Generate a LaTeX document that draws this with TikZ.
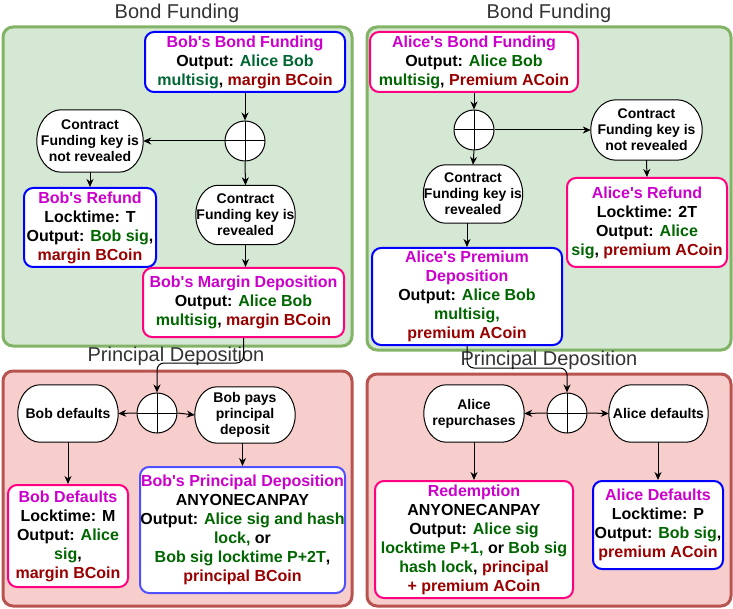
\documentclass[tikz,border=0pt]{standalone}
\usepackage{fontspec}
\setmainfont{Liberation Sans}
% family without TeX ligatures, so apostrophes stay straight
\newfontfamily\lsans{Liberation Sans}
\usetikzlibrary{arrows.meta,calc}

\definecolor{grpGfill}{HTML}{D5E8D4}
\definecolor{grpGline}{HTML}{82B366}
\definecolor{grpRfill}{HTML}{F8CECC}
\definecolor{grpRline}{HTML}{B85450}
\definecolor{tMagC}{HTML}{CC00CC}
\definecolor{tGrnC}{HTML}{006600}
\definecolor{tTealC}{HTML}{006633}
\definecolor{tRedC}{HTML}{990000}
\definecolor{bBlue}{HTML}{0000FF}
\definecolor{bPink}{HTML}{FF0080}
\definecolor{bLight}{HTML}{5050FF}
\definecolor{ttlC}{HTML}{333333}

\newcommand\tMag[1]{\textcolor{tMagC}{#1}}
\newcommand\tGrn[1]{\textcolor{tGrnC}{#1}}
\newcommand\tTeal[1]{\textcolor{tTealC}{#1}}
\newcommand\tRed[1]{\textcolor{tRedC}{#1}}

\pgfdeclarelayer{groups}
\pgfdeclarelayer{shapes}
\pgfsetlayers{groups,shapes,main}

% outline of a decision pill: elliptic corners, #2 = horizontal corner radius
\newcommand\pilloutline[2]{%
  \begin{pgfonlayer}{shapes}
  \draw[line width=1pt, fill=white]
    (#1.west) .. controls ($(#1.west)!0.552!(#1.north west)$) and ($(#1.north west)+(0.448*#2,0)$) .. ($(#1.north west)+(#2,0)$)
    -- ($(#1.north east)-(#2,0)$)
    .. controls ($(#1.north east)-(0.448*#2,0)$) and ($(#1.east)!0.552!(#1.north east)$) .. (#1.east)
    .. controls ($(#1.east)!0.552!(#1.south east)$) and ($(#1.south east)-(0.448*#2,0)$) .. ($(#1.south east)-(#2,0)$)
    -- ($(#1.south west)+(#2,0)$)
    .. controls ($(#1.south west)+(0.448*#2,0)$) and ($(#1.west)!0.552!(#1.south west)$) .. (#1.west) -- cycle;
  \end{pgfonlayer}}

\tikzset{
  grp/.style={line width=3pt, rounded corners=10pt},
  grpG/.style={grp, draw=grpGline, fill=grpGfill},
  grpR/.style={grp, draw=grpRline, fill=grpRfill},
  gtitle/.style={text=ttlC, inner sep=0pt, font=\lsans\fontsize{20}{24}\selectfont},
  card/.style={draw, line width=2pt, rounded corners=9pt, fill=white, align=center,
    inner sep=0pt, font=\lsans\bfseries\fontsize{16}{19}\selectfont},
  pilltext/.style={align=center, inner sep=0pt, font=\lsans\bfseries\fontsize{14}{16}\selectfont},
  xor/.style={circle, draw, fill=white, line width=1pt, minimum size=40pt, inner sep=0pt,
    path picture={\draw[line width=1pt] (path picture bounding box.north) -- (path picture bounding box.south)
      (path picture bounding box.west) -- (path picture bounding box.east);}},
  arr/.style={-{Stealth[length=8pt,width=7pt,inset=2.5pt]}, line width=1pt},
}

\begin{document}
\begin{tikzpicture}[x=1pt,y=-1pt]
\useasboundingbox (0,0) rectangle (733,609);

% ---- group panels
\begin{pgfonlayer}{groups}
  \draw[grpG] (3,27) rectangle (352,346);
  \draw[grpG] (367,27) rectangle (731,350);
  \draw[grpR] (3,371) rectangle (352,606);
  \draw[grpR] (367,374) rectangle (731,606);
\end{pgfonlayer}

\node[gtitle] (tBL) at (177,13) {Bond Funding};
\node[gtitle] (tBR) at (549,13) {Bond Funding};
\node[gtitle] (tPL) at (176,356) {Principal Deposition};
\node[gtitle] (tPR) at (549,360) {Principal Deposition};

% ---- Bob: bond funding
\node[card, draw=bBlue, minimum width=200pt, minimum height=60pt] (bobFund) at (245,62)
  {\tMag{Bob's Bond Funding}\\Output: \tTeal{Alice Bob}\\\tTeal{multisig}, \tRed{margin BCoin}};
\node[xor] (xorBob) at (245,141) {};
\node[pilltext, minimum width=106pt, minimum height=62pt] (bobNotRev) at (90,141)
  {Contract\\Funding key is\\not revealed};
\pilloutline{bobNotRev}{24}
\node[pilltext, minimum width=99pt, minimum height=59pt] (bobRev) at (245.5,215)
  {Contract\\Funding key is\\revealed};
\pilloutline{bobRev}{22}
\node[card, draw=bBlue, minimum width=132pt, minimum height=79pt] (bobRefund) at (90,227.5)
  {\tMag{Bob's Refund}\\Locktime: T\\Output: \tGrn{Bob sig},\\\tRed{margin BCoin}};
\node[card, draw=bPink, minimum width=201pt, minimum height=69pt] (bobMargin) at (243.5,302.5)
  {\tMag{Bob's Margin Deposition}\\Output: \tGrn{Alice Bob}\\\tGrn{multisig}, \tRed{margin BCoin}};

\draw[arr] (bobFund) -- (xorBob);
\draw[arr] (xorBob.south) -- (bobRev.north);
\draw[arr] (xorBob.west) -- (bobNotRev.east);
\draw[arr] (bobNotRev.south) -- (bobRefund.north);
\draw[arr] (bobRev.south) -- (bobRev.south |- bobMargin.north);

% ---- Alice: bond funding
\node[card, draw=bPink, minimum width=208pt, minimum height=60pt] (aliFund) at (474,62)
  {\tMag{Alice's Bond Funding}\\Output: \tGrn{Alice Bob}\\\tGrn{multisig}, \tRed{Premium ACoin}};
\node[xor] (xorAli) at (474,130) {};
\node[pilltext, minimum width=111pt, minimum height=60pt] (aliNotRev) at (646.5,130)
  {Contract\\Funding key is\\not revealed};
\pilloutline{aliNotRev}{25}
\node[pilltext, minimum width=99pt, minimum height=58pt] (aliRev) at (473,194)
  {Contract\\Funding key is\\revealed};
\pilloutline{aliRev}{22}
\node[card, draw=bPink, minimum width=160pt, minimum height=89pt] (aliRefund) at (647,222.5)
  {\tMag{Alice's Refund}\\Locktime: 2T\\Output: \tGrn{Alice}\\\tGrn{sig}, \tRed{premium ACoin}};
\node[card, draw=bBlue, minimum width=190pt, minimum height=97pt] (aliPremium) at (467,296.5)
  {\tMag{Alice's Premium}\\\tMag{Deposition}\\Output: \tGrn{Alice Bob}\\\tGrn{multisig,}\\\tRed{premium ACoin}};

\draw[arr] (aliFund.south -| xorAli) -- (xorAli);
\draw[arr] (xorAli.south) -- (aliRev.north);
\draw[arr] (xorAli.east) -- (aliNotRev.west);
\draw[arr] (aliNotRev.south) -- (aliRefund.north);
\draw[arr] (aliRev.south -| aliPremium) -- (aliPremium.north);

% ---- Bob: principal deposition
\node[xor] (xorBobP) at (157,413) {};
\node[pilltext, minimum width=100pt, minimum height=57pt] (bobDef) at (68,413.5) {Bob defaults};
\pilloutline{bobDef}{22}
\node[pilltext, minimum width=100pt, minimum height=56pt] (bobPays) at (245,415)
  {Bob pays\\principal\\deposit};
\pilloutline{bobPays}{22}
\node[card, draw=bPink, minimum width=120pt, minimum height=102pt] (bobDefBox) at (68,536)
  {\tMag{Bob Defaults}\\Locktime: M\\Output: \tGrn{Alice}\\\tGrn{sig},\\\tRed{margin BCoin}};
\node[card, draw=bLight, minimum width=205pt, minimum height=126pt] (bobPrin) at (242.5,530)
  {\tMag{Bob's Principal Deposition}\\ANYONECANPAY\\Output: \tGrn{Alice sig and hash}\\\tGrn{lock,} or\\\tGrn{Bob sig locktime P+2T},\\\tRed{principal BCoin}};

\draw[arr, rounded corners=7pt] (bobMargin.south) -- ++(0,25) -| (xorBobP.north);
\draw[arr] (xorBobP.west) -- (bobDef.east);
\draw[arr] (xorBobP.east) -- (bobPays.west);
\draw[arr] (bobDef.south) -- (bobDefBox.north);
\draw[arr] (bobPays.south -| bobPrin) -- (bobPrin.north);

% ---- Alice: principal deposition
\node[xor] (xorAliP) at (567,413) {};
\node[pilltext, minimum width=100pt, minimum height=57pt] (aliRep) at (474,413.5)
  {Alice\\repurchases};
\pilloutline{aliRep}{22}
\node[pilltext, minimum width=99pt, minimum height=57pt] (aliDef) at (658.5,413.5) {Alice defaults};
\pilloutline{aliDef}{22}
\node[card, draw=bPink, minimum width=198pt, minimum height=117pt] (aliRedeem) at (474,539.5)
  {\tMag{Redemption}\\ANYONECANPAY\\Output: \tGrn{Alice sig}\\\tGrn{locktime P+1,} or \tGrn{Bob sig}\\\tGrn{hash lock}, \tRed{principal}\\\tRed{+ premium ACoin}};
\node[card, draw=bBlue, minimum width=130pt, minimum height=88pt] (aliDefBox) at (658,525)
  {\tMag{Alice Defaults}\\Locktime: P\\Output: \tGrn{Bob sig},\\\tRed{premium ACoin}};

\draw[arr, rounded corners=7pt] (aliPremium.south) -- ++(0,22) -| (xorAliP.north);
\draw[arr] (xorAliP.west) -- (aliRep.east);
\draw[arr] (xorAliP.east) -- (aliDef.west);
\draw[arr] (aliRep.south) -- (aliRedeem.north);
\draw[arr] (aliDef.south -| aliDefBox) -- (aliDefBox.north);
\end{tikzpicture}
\end{document}
